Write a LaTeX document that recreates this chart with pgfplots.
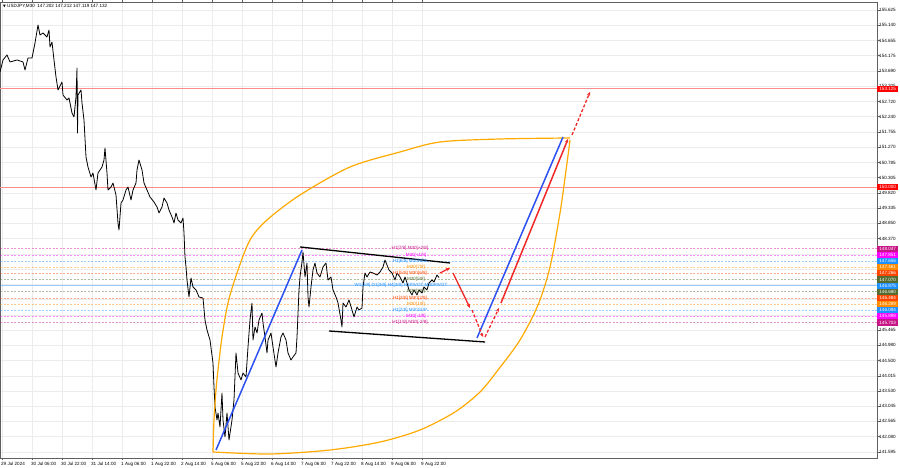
\documentclass[border=0pt]{standalone}
\usepackage{pgfplots}
\pgfplotsset{compat=1.18}
\usepackage{fontspec}
\setmainfont{Liberation Sans}
\newfontfamily\dejavu{DejaVu Sans}
\usetikzlibrary{arrows.meta}

\definecolor{mvr}{RGB}{199,21,133}
\definecolor{mag}{RGB}{255,0,255}
\definecolor{dblue}{RGB}{30,144,255}
\definecolor{dorange}{RGB}{255,140,0}
\definecolor{ored}{RGB}{255,69,0}
\definecolor{dolive}{RGB}{85,107,47}
\definecolor{leaf}{RGB}{255,170,0}
\definecolor{wblue}{RGB}{45,80,240}
\definecolor{wred}{RGB}{240,40,40}
\definecolor{hline}{RGB}{255,140,140}

\newcommand{\mtfont}{\fontsize{4.6}{5}\selectfont}

\begin{document}
\begin{tikzpicture}
\path[use as bounding box] (0,-10bp) rectangle (900bp,458bp);
\begin{axis}[
    scale only axis,
    width=877bp, height=456bp,
    xmin=0, xmax=877,
    ymin=141.403, ymax=155.879,
    clip mode=individual,
    axis line style={gray!75!black, line width=0.6pt},
    tick align=outside,
    major tick length=2.5bp,
    tick style={gray!75!black, line width=0.4pt},
    grid=major,
    major grid style={gray!15, line width=0.4pt},
    xtick={2,32,62,92,122,152,182,212,242,272,302,332,362,392,422},
    xticklabels={29 Jul 2024,30 Jul 06:00,30 Jul 22:00,31 Jul 14:00,1 Aug 06:00,1 Aug 22:00,2 Aug 14:00,5 Aug 06:00,5 Aug 22:00,6 Aug 14:00,7 Aug 06:00,7 Aug 22:00,8 Aug 14:00,9 Aug 06:00,9 Aug 22:00},
    x tick label style={font=\mtfont, anchor=north west, inner sep=0pt, xshift=-1bp, yshift=-1.5bp},
    ytick={141.595,142.080,142.565,143.045,143.530,144.015,144.500,144.980,145.465,145.950,146.430,146.915,147.400,147.885,148.370,148.850,149.335,149.820,150.305,150.785,151.270,151.755,152.240,152.720,153.205,153.690,154.175,154.655,155.140,155.625},
    yticklabels={141.595,142.080,142.565,143.045,143.530,144.015,144.500,144.980,145.465,{},{},{},{},{},148.370,148.850,149.335,149.820,150.305,150.785,151.270,151.755,152.240,152.720,153.205,153.690,154.175,154.655,155.140,155.625},
    yticklabel pos=right,
    y tick label style={font=\mtfont, anchor=west, inner sep=0pt, xshift=-0.5bp},
]

% key horizontal levels
\addplot[hline, line width=1bp] coordinates {(0,153.125) (877,153.125)};
\addplot[hline, line width=1.3bp] coordinates {(0,150.000) (877,150.000)};

% Murrey math levels
\addplot[mvr, draw opacity=0.45, line width=0.6bp, dash pattern=on 2bp off 1.5bp] coordinates {(0,148.047) (877,148.047)};
\addplot[mag, draw opacity=0.45, line width=0.6bp, dash pattern=on 2bp off 1.5bp] coordinates {(0,147.851) (877,147.851)};
\addplot[dblue, draw opacity=0.45, line width=0.6bp, dash pattern=on 2bp off 1.5bp] coordinates {(0,147.656) (877,147.656)};
\addplot[dorange, draw opacity=0.45, line width=0.6bp, dash pattern=on 2bp off 1.5bp] coordinates {(0,147.461) (877,147.461)};
\addplot[ored, draw opacity=0.45, line width=0.6bp, dash pattern=on 2bp off 1.5bp] coordinates {(0,147.266) (877,147.266)};
\addplot[dolive, draw opacity=0.45, line width=0.6bp, dash pattern=on 2bp off 1.5bp] coordinates {(0,147.070) (877,147.070)};
\addplot[dblue, draw opacity=0.45, line width=0.7bp] coordinates {(0,146.875) (877,146.875)};
\addplot[dolive, draw opacity=0.45, line width=0.6bp, dash pattern=on 2bp off 1.5bp] coordinates {(0,146.680) (877,146.680)};
\addplot[ored, draw opacity=0.45, line width=0.6bp, dash pattern=on 2bp off 1.5bp] coordinates {(0,146.484) (877,146.484)};
\addplot[dorange, draw opacity=0.45, line width=0.6bp, dash pattern=on 2bp off 1.5bp] coordinates {(0,146.289) (877,146.289)};
\addplot[dblue, draw opacity=0.45, line width=0.6bp, dash pattern=on 2bp off 1.5bp] coordinates {(0,146.094) (877,146.094)};
\addplot[mag, draw opacity=0.45, line width=0.6bp, dash pattern=on 2bp off 1.5bp] coordinates {(0,145.898) (877,145.898)};
\addplot[mvr, draw opacity=0.45, line width=0.6bp, dash pattern=on 2bp off 1.5bp] coordinates {(0,145.703) (877,145.703)};

% USDJPY M30 price path
\addplot[black, line width=0.8bp, line join=round] coordinates {
(0,153.657) (3,154.038) (7,154.197) (10,153.975) (17,154.038) (23,153.975) (25,153.721)
(28,154.102) (32,154.102) (35,154.578) (38,155.149) (40,154.832) (43,154.895) (47,154.768)
(49,154.991) (50,154.451) (52,154.610) (54,154.038) (56,153.499) (58,153.086) (62,153.340)
(63,152.927) (67,152.768) (69,152.832) (72,152.356) (74,152.229) (76,152.864) (77,153.784)
(77.5,151.721) (78,152.927) (81,153.086) (82,152.673) (84,152.133) (86,150.959) (88,150.641)
(91,150.324) (93,150.451) (96,149.911) (98,150.451) (102,150.641) (104,150.864) (105,151.245)
(107,150.451) (108,149.911) (111,150.006) (113,150.133) (116,149.753) (118,148.864) (119,148.641)
(121,149.499) (123,149.594) (126,149.911) (128,150.006) (131,149.594) (133,149.911) (136,150.133)
(137,150.546) (139,150.864) (142,150.546) (144,150.133) (147,149.911) (150,149.689) (154,149.530)
(157,149.372) (159,149.181) (162,149.372) (164,149.657) (167,149.499) (169,149.276) (172,149.054)
(174,148.864) (176,149.181) (178,148.959) (181,148.864) (183,149.022) (184,148.546) (185,147.784)
(186,147.467) (187,147.054) (189,146.514) (191,147.118) (193,146.832) (196,146.737) (199,146.514)
(203,146.483) (205,145.784) (207,145.467) (210,145.149) (213,144.419) (214,143.657) (215,143.022)
(217,142.610) (218,142.832) (220,142.387) (222,143.467) (223,142.610) (225,142.070) (227,142.832)
(229,141.975) (232,142.610) (234,143.245) (236,144.737) (238,144.102) (241,143.880) (243,144.102)
(246,143.975) (248,144.927) (250,145.784) (252,146.324) (253,145.149) (255,145.562) (257,145.372)
(259,145.784) (262,146.006) (263,145.689) (265,145.245) (267,144.737) (268,145.149) (271,145.372)
(273,144.927) (276,144.292) (278,144.737) (281,145.245) (283,145.372) (286,145.149) (288,144.737)
(291,144.514) (293,144.610) (296,144.737) (297,145.245) (299,146.737) (300,147.149) (302,147.626)
(303,147.943) (305,147.149) (307,147.594) (308,146.514) (309,146.197) (311,146.832) (313,147.372)
(315,147.594) (317,147.276) (320,147.149) (323,147.467) (326,147.594) (328,147.054) (331,147.149)
(333,146.737) (336,146.514) (338,146.324) (341,145.784) (342,145.562) (343,146.324) (346,146.197)
(349,146.419) (352,146.102) (354,145.880) (357,146.197) (359,146.102) (362,146.165) (363,146.832)
(365,147.276) (367,147.149) (370,147.308) (373,147.276) (377,147.213) (380,147.308) (383,147.467)
(385,147.689) (387,147.530) (389,147.372) (392,147.276) (395,147.054) (397,147.276) (400,147.149)
(403,146.959) (405,147.149) (407,146.959) (409,146.737) (412,146.578) (414,146.737) (417,146.578)
(419,146.737) (422,146.641) (424,146.832) (427,146.737) (429,146.959) (432,147.054) (434,146.991)
(437,147.213) (439,147.132)
};

% leaf curves
\addplot[leaf, line width=1.2bp, smooth, tension=0.5] coordinates {
(213,141.594) (214,142.610) (216,143.562) (218,144.197) (222,145.245) (228,146.324) (237,147.276)
(250,148.324) (267,148.959) (300,149.753) (350,150.641) (400,151.118) (440,151.435) (500,151.530)
(570,151.562)
};
\addplot[leaf, line width=1.2bp, smooth, tension=0.5] coordinates {
(213,141.594) (270,141.530) (330,141.657) (380,141.911) (420,142.292) (455,142.864) (480,143.499)
(498,144.197) (520,145.149) (538,146.260) (550,147.467) (560,149.181) (567,150.768) (570,151.499)
};

% channel
\addplot[black, line width=1.3bp] coordinates {(300,148.102) (450,147.594)};
\addplot[black, line width=1.3bp] coordinates {(329,145.435) (485,145.086)};

% waves
\addplot[wblue, line width=1.5bp] coordinates {(216,141.657) (302,148.006)};
\addplot[wblue, line width=1.5bp] coordinates {(477,145.213) (563,151.594)};
\addplot[wred, line width=1.3bp, -{Stealth[length=4bp,width=3.5bp]}] coordinates {(440,147.276) (450,147.435)};
\addplot[wred, line width=1.3bp, -{Stealth[length=4bp,width=3.5bp]}] coordinates {(453,147.276) (470,146.165)};
\addplot[wred, line width=1.3bp, dash pattern=on 3bp off 2bp, -{Stealth[length=4bp,width=3.5bp]}] coordinates {(472,146.102) (483,145.245)};
\addplot[wred, line width=1.3bp, dash pattern=on 3bp off 2bp, -{Stealth[length=4bp,width=3.5bp]}] coordinates {(485,145.245) (499,146.165)};
\addplot[wred, line width=1.5bp, -{Stealth[length=4bp,width=3.5bp]}] coordinates {(501,146.324) (568,151.530)};
\addplot[wred, line width=1.3bp, dash pattern=on 3bp off 2bp, -{Stealth[length=4bp,width=3.5bp]}] coordinates {(572,151.657) (590,153.022)};

% level texts
\begin{scope}[every node/.style={font=\mtfont, inner sep=0pt}]
\node[text=mvr] at (axis cs:410,148.047) {H1[7/8] M30[+2/8]};
\node[text=mag] at (axis cs:416,147.851) {M30[+1/8]};
\node[text=dblue] at (axis cs:410,147.656) {H1[6/8] M30RES};
\node[text=dorange] at (axis cs:416,147.461) {M30[7/8]};
\node[text=ored] at (axis cs:410,147.266) {H1[5/8] M30[6/8]};
\node[text=dolive] at (axis cs:416,147.070) {M30[5/8]};
\node[text=dblue] at (axis cs:401,146.875) {W1[3/8] D1[3/8] H4[3/8] H1PIVOT M30PIVOT};
\node[text=dolive] at (axis cs:416,146.680) {M30[3/8]};
\node[text=ored] at (axis cs:410,146.484) {H1[3/8] M30[2/8]};
\node[text=dorange] at (axis cs:416,146.289) {M30[1/8]};
\node[text=dblue] at (axis cs:410,146.094) {H1[2/8] M30SUP};
\node[text=mag] at (axis cs:416,145.898) {M30[-1/8]};
\node[text=mvr] at (axis cs:410,145.703) {H1[1/8] M30[-2/8]};
\end{scope}

% price boxes on the scale
\begin{scope}[every node/.style={font=\mtfont, text=white, inner sep=0pt, minimum width=21bp, minimum height=6.2bp, anchor=west}]
\node[fill=red] at (axis cs:877,153.125) {153.125};
\node[fill=red] at (axis cs:877,150.000) {150.000};
\node[fill=mvr] at (axis cs:877,148.047) {148.047};
\node[fill=mag] at (axis cs:877,147.851) {147.851};
\node[fill=dblue] at (axis cs:877,147.656) {147.656};
\node[fill=dorange] at (axis cs:877,147.461) {147.461};
\node[fill=ored] at (axis cs:877,147.266) {147.266};
\node[fill=dolive] at (axis cs:877,147.070) {147.070};
\node[fill=dblue] at (axis cs:877,146.875) {146.875};
\node[fill=dolive] at (axis cs:877,146.680) {146.680};
\node[fill=ored] at (axis cs:877,146.484) {146.484};
\node[fill=dorange] at (axis cs:877,146.289) {146.289};
\node[fill=dblue] at (axis cs:877,146.094) {146.094};
\node[fill=mag] at (axis cs:877,145.898) {145.898};
\node[fill=mvr] at (axis cs:877,145.703) {145.703};
\end{scope}

\node[anchor=north west, font=\mtfont, inner sep=0pt] at ([xshift=3bp,yshift=-2.5bp]rel axis cs:0,1) {{\dejavu\fontsize{3.6}{4}\selectfont ▼} USDJPY,M30\ \ 147.202 147.212 147.119 147.132};
\end{axis}
\end{tikzpicture}
\end{document}
